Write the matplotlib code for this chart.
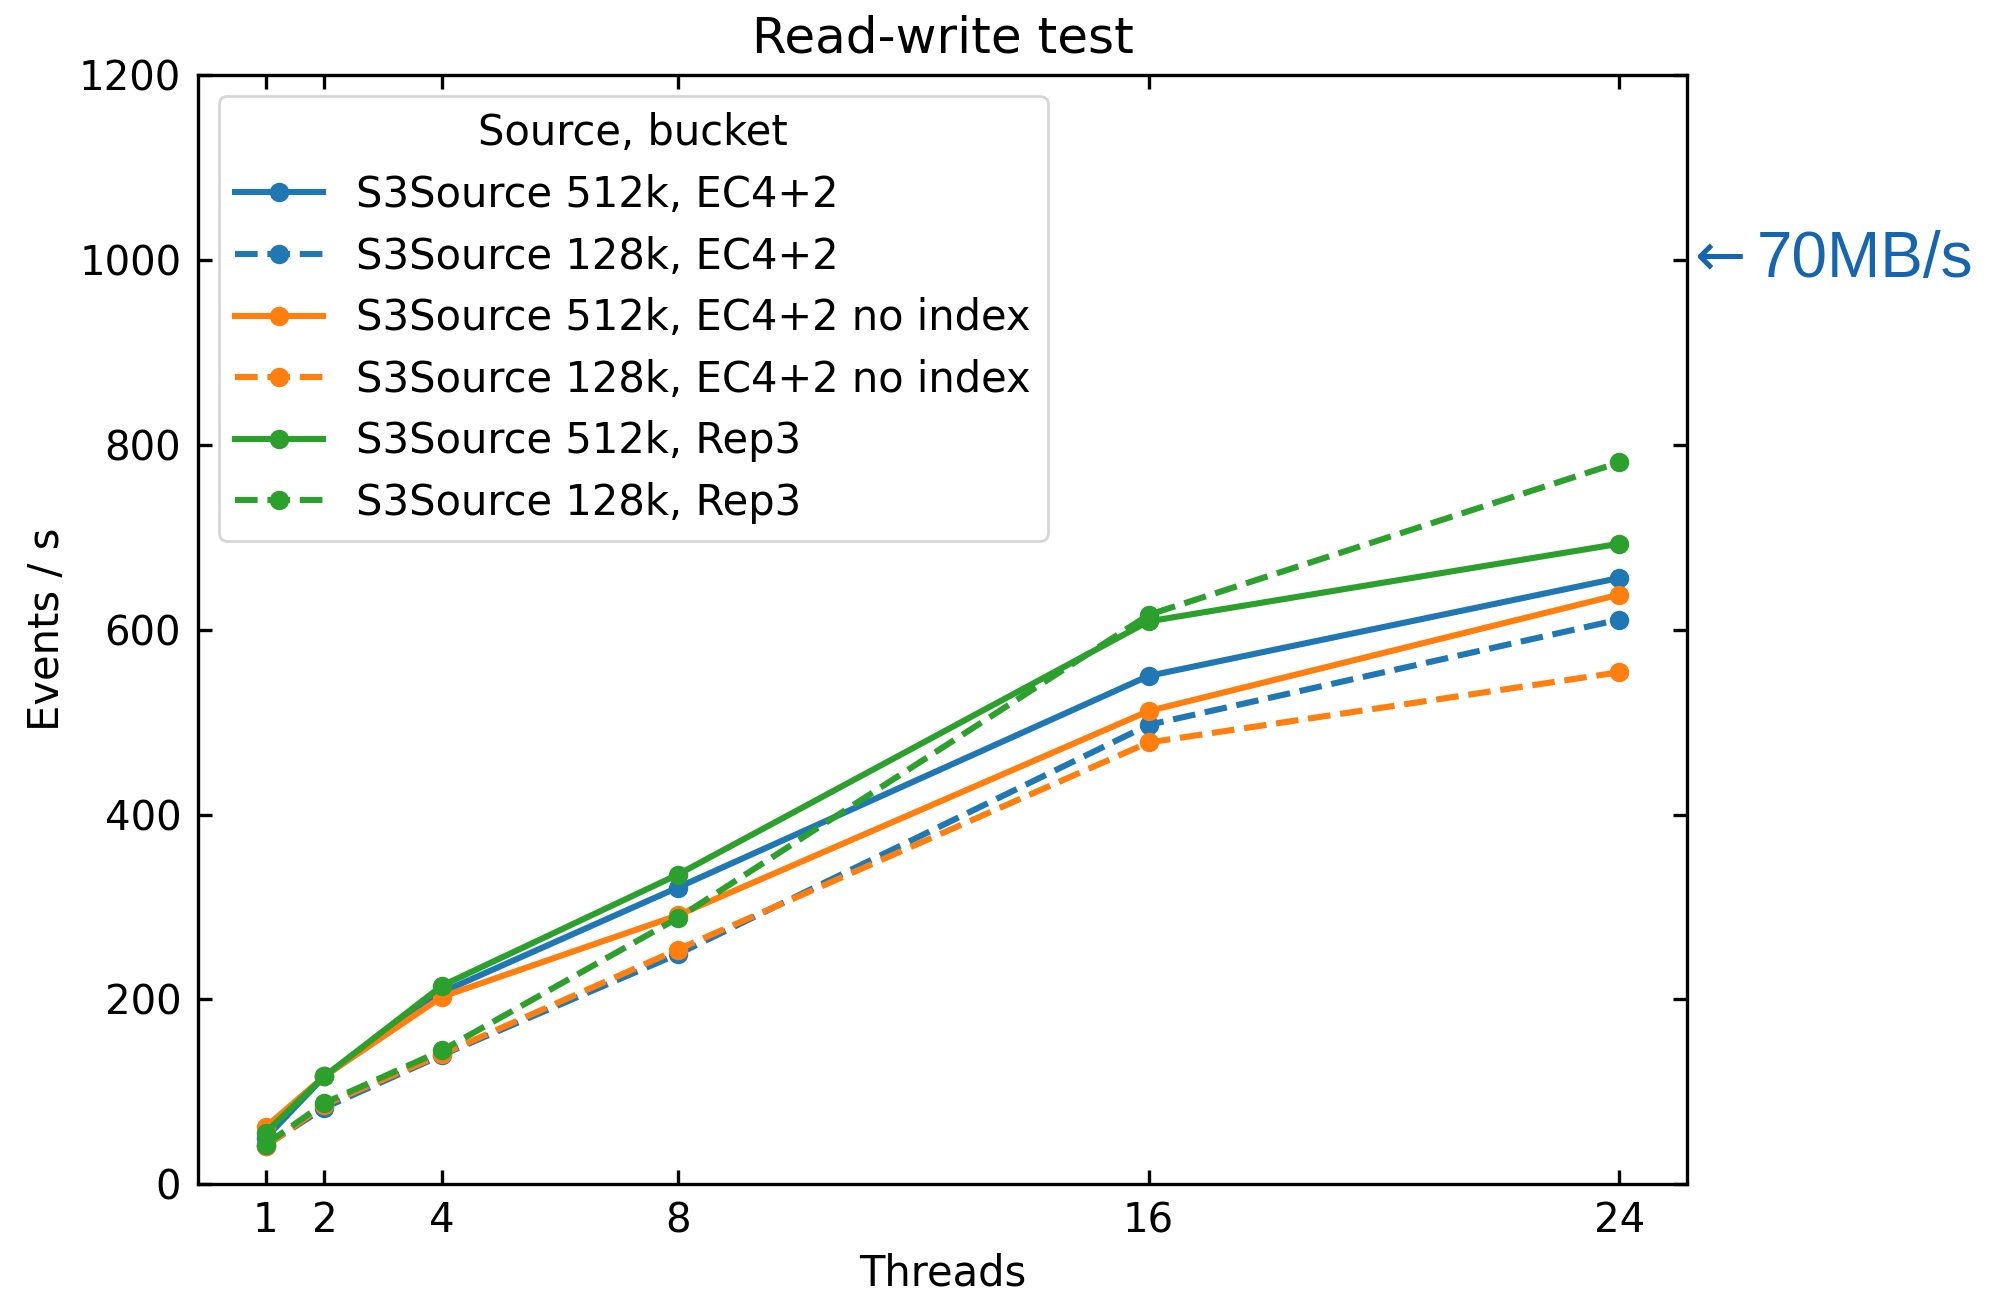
"""Read-write throughput vs. thread count for S3Source configurations."""

import matplotlib

matplotlib.use("Agg")
from matplotlib import pyplot as plt

THREADS = [1, 2, 4, 8, 16, 24]

EC_512K = [50, 117, 208, 321, 550, 656]
EC_128K = [42, 83, 140, 249, 497, 611]
EC_512K_NOIDX = [62, 117, 203, 291, 512, 638]
EC_128K_NOIDX = [41, 86, 141, 254, 478, 554]
REP3_512K = [56, 117, 215, 335, 609, 693]
REP3_128K = [43, 88, 145, 288, 616, 781]

SERIES = [
    ("S3Source 512k, EC4+2", EC_512K, "C0", "-"),
    ("S3Source 128k, EC4+2", EC_128K, "C0", "--"),
    ("S3Source 512k, EC4+2 no index", EC_512K_NOIDX, "C1", "-"),
    ("S3Source 128k, EC4+2 no index", EC_128K_NOIDX, "C1", "--"),
    ("S3Source 512k, Rep3", REP3_512K, "C2", "-"),
    ("S3Source 128k, Rep3", REP3_128K, "C2", "--"),
]

plt.rcParams["font.size"] = 15
plt.rcParams["axes.linewidth"] = 1.2

fig = plt.figure(figsize=(9.995, 6.465), dpi=200)
ax = fig.add_axes([0.099, 0.084, 0.745, 0.858])

for label, values, color, style in SERIES:
    ax.plot(THREADS, values, style, color=color, marker="o", markersize=6,
            linewidth=2.2, label=label)

ax.set_ylim(0, 1200)
ax.set_xticks(THREADS)
ax.set_yticks(range(0, 1201, 200))
ax.tick_params(direction="in", top=True, right=True, length=5, width=1.2,
               pad=6, labelsize=14.5)
ax.set_xlabel("Threads")
ax.set_ylabel("Events / s")
ax.set_title("Read-write test", fontsize=18, pad=8)
ax.legend(title="Source, bucket", title_fontsize=15, loc="upper left",
          handlelength=2.1, labelspacing=0.47)

# bandwidth marker on the right edge
ax.annotate("\u2190", xy=(1.0, 1000), xycoords=("axes fraction", "data"),
            xytext=(3, 0), textcoords="offset points", va="center", ha="left",
            fontsize=22, color="#1565b0")
ax.annotate("70MB/s", xy=(1.0, 1000), xycoords=("axes fraction", "data"),
            xytext=(25, 0), textcoords="offset points", va="center", ha="left",
            fontsize=23, color="#1565b0", family=["Liberation Sans", "DejaVu Sans"])

fig.savefig("out.png", dpi=200)
